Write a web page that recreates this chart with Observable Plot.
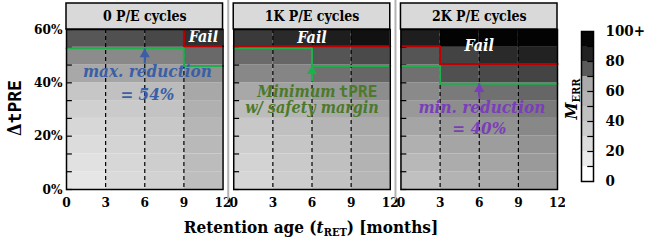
<!DOCTYPE html>
<html><head><meta charset="utf-8">
<script src="https://cdn.jsdelivr.net/npm/d3@7"></script>
<script src="https://cdn.jsdelivr.net/npm/@observablehq/plot@0.6"></script>
<style>
html,body{margin:0;padding:0;background:#fff;}
#wrap{position:relative;width:645px;height:244px;overflow:hidden;background:#fff;}
#main{position:absolute;left:0;top:0;}
#legend{position:absolute;left:560px;top:0;}
</style></head><body><div id="wrap"><div id="main"></div><div id="legend"></div></div>
<script>
const SERIF = "'DejaVu Serif Condensed', 'DejaVu Serif', serif";
const MONO = "'DejaVu Sans Mono', monospace";

const panels = ["0 P/E cycles", "1K P/E cycles", "2K P/E cycles"];
const retentionEdges = [0, 3, 6, 9, 12];
const tpreEdges = [0, 6.67, 13.33, 20, 26.67, 33.33, 40, 46.67, 53.33, 60];
const yTicks = [0, 20, 40, 60];
const xTicks = [0, 3, 6, 9, 12];
const dashedAt = [3, 6, 9];

// M_ERR per cell: rows from 0% (bottom) to 60% (top); columns 0-3, 3-6, 6-9, 9-12 months
const merrPE0 = [
  [13.8, 21.3, 26.7, 41.7],
  [16.9, 23.3, 29.3, 43.3],
  [20.0, 25.3, 31.5, 45.8],
  [23.3, 28.0, 33.8, 48.3],
  [28.0, 32.3, 37.7, 54.0],
  [35.4, 39.2, 44.2, 60.3],
  [60.3, 60.6, 61.3, 63.1],
  [63.8, 64.1, 65.0, 68.1],
  [70.5, 71.8, 73.2, 77.5]
];
const merrPE1K = [
  [24.0, 30.0, 37.7, 48.3],
  [26.0, 32.3, 40.0, 51.0],
  [29.3, 35.4, 43.3, 54.0],
  [33.8, 40.0, 49.2, 60.0],
  [43.3, 49.2, 60.0, 61.3],
  [60.3, 61.3, 62.1, 63.6],
  [64.3, 64.6, 67.3, 68.5],
  [68.0, 68.5, 70.9, 72.9],
  [75.7, 78.6, 81.4, 85.9]
];
const merrPE2K = [
  [40.0, 51.0, 60.0, 61.3],
  [46.7, 58.0, 60.6, 62.0],
  [54.0, 60.6, 61.6, 62.9],
  [60.6, 62.0, 63.0, 64.3],
  [62.1, 63.6, 64.6, 66.0],
  [64.0, 66.0, 67.3, 68.5],
  [67.3, 71.8, 72.9, 73.9],
  [70.9, 74.1, 78.6, 80.0],
  [81.4, 95.0, 95.0, 95.0]
];

// fail boundary (red) and minimum tPRE with safety margin (green), per retention column
const failPE0 = [60, 60, 60, 53.33];
const failPE1K = [53.33, 53.33, 53.33, 53.33];
const failPE2K = [53.33, 46.67, 46.67, 46.67];
const safePE0 = [53.33, 53.33, 53.33, 46.67];
const safePE1K = [53.33, 53.33, 46.67, 46.67];
const safePE2K = [46.67, 40, 40, 40];

const colorStops = [0, 10, 20, 30, 40, 50, 60, 70, 80, 90, 100];
const grayStops = ["#ffffff", "#ececec", "#dcdcdc", "#cdcdcd", "#c0c0c0", "#b4b4b4", "#aaaaaa", "#5a5a5a", "#222222", "#050505", "#000000"];
const legendBins = [0, 10, 20, 30, 40, 50, 60, 70, 80, 90];
const legendTicks = [0, 20, 40, 60, 80, 100];

const BLUE = "#3a5fa6", DKGREEN = "#4c7a2a", PURPLE = "#7a3fb8", LGREEN = "#1db04b", RED = "#c00000";

const failLabels = [
  {panel: panels[0], x: 10.5, y: 57.2},
  {panel: panels[1], x: 6, y: 56.8},
  {panel: panels[2], x: 6, y: 53.7}
];
const arrows = [
  {panel: panels[0], x: 6, tip: 52.9, tail: 47.2, color: BLUE},
  {panel: panels[1], x: 6, tip: 46.6, tail: 40.5, color: LGREEN},
  {panel: panels[2], x: 6, tip: 39.9, tail: 34.1, color: PURPLE}
];
const notes = [
  {panel: panels[0], x: 6.2, y: 44.3, text: "max. reduction", color: BLUE, anchor: "middle", mono: false, size: 17},
  {panel: panels[0], x: 6.2, y: 35.6, text: "= 54%", color: BLUE, anchor: "middle", mono: false, size: 17},
  {panel: panels[1], x: 7.8, y: 36.5, text: "Minimum", color: DKGREEN, anchor: "end", mono: false, size: 16},
  {panel: panels[1], x: 8.05, y: 36.5, text: "tPRE", color: DKGREEN, anchor: "start", mono: true, size: 16},
  {panel: panels[1], x: 6.0, y: 30.7, text: "w/ safety margin", color: DKGREEN, anchor: "middle", mono: false, size: 16},
  {panel: panels[2], x: 6.2, y: 30.7, text: "min. reduction", color: PURPLE, anchor: "middle", mono: false, size: 17},
  {panel: panels[2], x: 6.0, y: 22.9, text: "= 40%", color: PURPLE, anchor: "middle", mono: false, size: 17}
];

const merr = [merrPE0, merrPE1K, merrPE2K];
const cells = panels.flatMap((p, k) => merr[k].flatMap((row, i) => row.map((v, j) => ({
  panel: p, x1: retentionEdges[j], x2: retentionEdges[j + 1], y1: tpreEdges[i], y2: tpreEdges[i + 1], v
}))));
const stepLine = (arr, p) => retentionEdges.map((x, j) => ({panel: p, x, y: arr[Math.min(j, arr.length - 1)]}));
const failLines = [failPE0, failPE1K, failPE2K].flatMap((a, k) => stepLine(a, panels[k]));
const safeLines = [safePE0, safePE1K, safePE2K].flatMap((a, k) => stepLine(a, panels[k]));

const colorScale = {type: "linear", domain: colorStops, range: grayStops, interpolate: "rgb", clamp: true};
const headerTop = 69.75;

const W = 565;
const noteMarks = notes.map(n => Plot.text([n], {
  fx: "panel", x: "x", y: "y", text: "text", fill: n.color, textAnchor: n.anchor,
  fontFamily: n.mono ? MONO : SERIF, fontWeight: "bold", fontStyle: n.mono ? "normal" : "italic", fontSize: n.size
}));

const main = Plot.plot({
  width: W, height: 244,
  marginLeft: 66, marginRight: W - 557, marginTop: 29, marginBottom: 55,
  style: {fontFamily: SERIF, fontWeight: "bold", fontSize: "13.5px", color: "black", background: "white"},
  fx: {domain: panels, paddingInner: 0.064, paddingOuter: 0, axis: null, round: false},
  x: {domain: [0, 12], ticks: xTicks, tickSize: 0, tickPadding: 8, label: null},
  y: {domain: [0, 60], ticks: yTicks, tickFormat: d => d + "%", tickSize: 0, tickPadding: 4, label: null},
  color: colorScale,
  marks: [
    Plot.rect(cells, {fx: "panel", x1: "x1", x2: "x2", y1: "y1", y2: "y2", fill: "v"}),
    Plot.ruleX(dashedAt, {stroke: "black", strokeWidth: 1.2, strokeDasharray: "4,3"}),
    Plot.ruleY(tpreEdges, {x1: 0, x2: 0.45, stroke: "black", strokeWidth: 1.2}),
    Plot.line(safeLines, {fx: "panel", x: "x", y: "y", z: "panel", curve: "step-after", stroke: LGREEN, strokeWidth: 2, dy: 1}),
    Plot.line(failLines, {fx: "panel", x: "x", y: "y", z: "panel", curve: "step-after", stroke: RED, strokeWidth: 2, dy: -1}),
    Plot.text(failLabels, {fx: "panel", x: "x", y: "y", text: () => "Fail", fill: "white", fontFamily: SERIF, fontWeight: "bold", fontStyle: "italic", fontSize: 16}),
    Plot.link(arrows, {fx: "panel", x1: "x", x2: "x", y1: "tail", y2: "tip", stroke: "color", strokeWidth: 2}),
    Plot.dot(arrows, {fx: "panel", x: "x", y: "tip", symbol: "triangle", r: 3.8, fill: "color", stroke: "none", dy: 5.9}),
    ...noteMarks,
    Plot.frame({stroke: "black", strokeWidth: 1.5}),
    Plot.rect(panels, {fx: d => d, x1: 0, x2: 12, y1: 60, y2: headerTop, fill: "#d9d9d9", stroke: "black", strokeWidth: 1.5}),
    Plot.text(panels, {fx: d => d, x: 6, y: (60 + headerTop) / 2, text: d => d, fontSize: 14, fontWeight: "bold", fill: "black"}),
    Plot.ruleX(panels.slice(1), {fx: d => d, x: 0, dx: -5.5, y1: -4, y2: 71, stroke: "#b3b3b3", strokeWidth: 2})
  ]
});
document.getElementById("main").appendChild(main);

const svg = d3.select(main);
const xl = svg.append("text").attr("x", 311).attr("y", 233).attr("text-anchor", "middle")
  .attr("font-family", SERIF).attr("font-weight", "bold").attr("font-size", 17).attr("fill", "black");
xl.append("tspan").text("Retention age (");
xl.append("tspan").attr("font-style", "italic").text("t");
xl.append("tspan").attr("font-size", 11).attr("dy", 3).text("RET");
xl.append("tspan").attr("dy", -3).text(") [months]");

const yl = svg.append("text").attr("transform", "translate(20.5,108) rotate(-90)").attr("text-anchor", "middle")
  .attr("font-weight", "bold").attr("font-size", 18).attr("fill", "black");
yl.append("tspan").attr("font-family", SERIF).text("Δ");
yl.append("tspan").attr("font-family", MONO).text("tPRE");

const legend = Plot.plot({
  width: 85, height: 244,
  marginLeft: 21, marginRight: 52, marginTop: 31, marginBottom: 63,
  style: {fontFamily: SERIF, fontWeight: "bold", fontSize: "15px", color: "black", background: "transparent"},
  x: {domain: [0, 1], axis: null},
  y: {domain: [0, 100], axis: "right", ticks: legendTicks, tickFormat: d => d === 100 ? "100+" : String(d), tickSize: 0, tickPadding: 12, label: null},
  color: colorScale,
  marks: [
    Plot.rect(legendBins, {x1: 0, x2: 1, y1: d => d, y2: d => d + 10, fill: d => d}),
    Plot.ruleY(legendBins.slice(1), {x1: 0.52, x2: 1, stroke: "black", strokeWidth: 1.2}),
    Plot.frame({stroke: "black", strokeWidth: 1.5})
  ]
});
document.getElementById("legend").appendChild(legend);
const ll = d3.select(legend).append("text").attr("transform", "translate(17,99) rotate(-90)").attr("text-anchor", "middle")
  .attr("font-family", SERIF).attr("font-weight", "bold").attr("font-size", 17).attr("fill", "black");
ll.append("tspan").attr("font-style", "italic").text("M");
ll.append("tspan").attr("font-size", 11).attr("dy", 3).text("ERR");
</script></body></html>
